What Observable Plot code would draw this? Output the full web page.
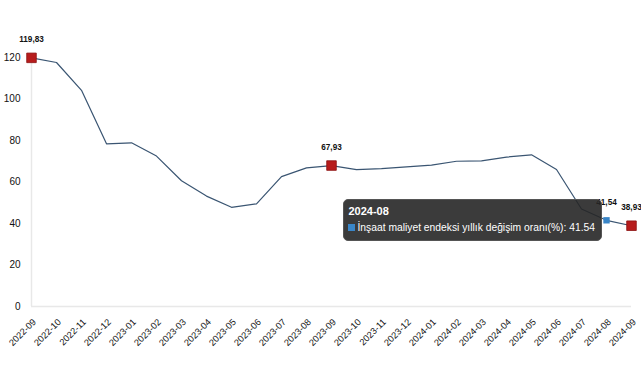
<!DOCTYPE html>
<html><head><meta charset="utf-8">
<script src="https://cdn.jsdelivr.net/npm/d3@7"></script>
<script src="https://cdn.jsdelivr.net/npm/@observablehq/plot@0.6"></script>
<style>
body{margin:0;background:#fff;font-family:"Liberation Sans",Arial,sans-serif;}
#chart{position:relative;width:641px;height:380px;}
#chart svg{display:block;}
.tip{position:absolute;background:rgba(38,38,38,0.9);color:#fff;border:1px solid #555;border-radius:5px;padding:4px 6px 5px 4px;font-family:"Liberation Sans",Arial,sans-serif;font-size:10.3px;line-height:14px;white-space:nowrap;box-sizing:border-box;}
.tip .t{font-weight:bold;font-size:11px;margin-bottom:3px;}
.tip .sw{display:inline-block;width:7px;height:7px;background:#3a86c8;margin-right:2px;vertical-align:0px;}
</style></head>
<body><div id="chart"></div>
<script>
const months = ["2022-09","2022-10","2022-11","2022-12","2023-01","2023-02","2023-03","2023-04","2023-05","2023-06","2023-07","2023-08","2023-09","2023-10","2023-11","2023-12","2024-01","2024-02","2024-03","2024-04","2024-05","2024-06","2024-07","2024-08","2024-09"];
const values = [119.83,117.6,104.2,78.4,78.9,72.5,60.6,53.2,47.8,49.5,62.6,66.8,67.93,66.0,66.4,67.3,68.1,70.0,70.2,72.0,73.1,66.0,47.0,41.54,38.93];
const highlighted = ["2022-09","2023-09","2024-09"];
const labelled = ["2022-09","2023-09","2024-08","2024-09"];
const hovered = "2024-08";
const seriesName = "İnşaat maliyet endeksi yıllık değişim oranı(%)";
const yTicks = [0,20,40,60,80,100,120];

const data = months.map((m,i)=>({month:m, value:values[i]}));
const hi = data.filter(d=>highlighted.includes(d.month));
const lab = data.filter(d=>labelled.includes(d.month));
const hov = data.filter(d=>d.month===hovered);
const fmt = v => v.toFixed(2).replace(".",",");

const plot = Plot.plot({
  width:641, height:380,
  marginLeft:31, marginRight:10, marginTop:57, marginBottom:74,
  style:{fontFamily:"'Liberation Sans', Arial, sans-serif", color:"#111", background:"#fff"},
  x:{type:"point", domain:months, padding:0},
  y:{domain:[0,120]},
  marks:[
    Plot.ruleY([0],{stroke:"#e8e8e8", strokeWidth:1.5}),
    Plot.ruleX([months[0]],{y1:0, y2:yTicks[yTicks.length-1], stroke:"#e8e8e8", strokeWidth:1.5}),
    Plot.axisY({ticks:yTicks, tickSize:0, tickPadding:11, fontSize:10, label:null}),
    Plot.axisX({tickSize:0, tickRotate:-45, tickPadding:10, dx:3, dy:4, fontSize:9.2, label:null}),
    Plot.line(data,{x:"month", y:"value", stroke:"#3a5572", strokeWidth:1.2}),
    Plot.dot(hi,{x:"month", y:"value", symbol:"square", r:5.4, fill:"#b71c1c", stroke:"#8c1313", strokeWidth:0.8}),
    Plot.dot(hov,{x:"month", y:"value", symbol:"square", r:3.6, fill:"#3a86c8"}),
    Plot.text(lab,{x:"month", y:"value", text:d=>fmt(d.value), dy:-18, fontWeight:"bold", fontSize:8.2, fill:"#111"})
  ]
});
const chart = document.getElementById("chart");
chart.appendChild(plot);

const xs = plot.scale("x"), ys = plot.scale("y");
const hp = hov[0];
const px = xs.apply(hp.month), py = ys.apply(hp.value);
const tip = document.createElement("div");
tip.className = "tip";
tip.innerHTML = `<div class="t">${hp.month}</div><div><span class="sw"></span>${seriesName}: ${hp.value}</div>`;
chart.appendChild(tip);
const r = tip.getBoundingClientRect();
tip.style.left = (px - 4 - r.width) + "px";
tip.style.top = (py - r.height/2) + "px";
</script>
</body></html>
